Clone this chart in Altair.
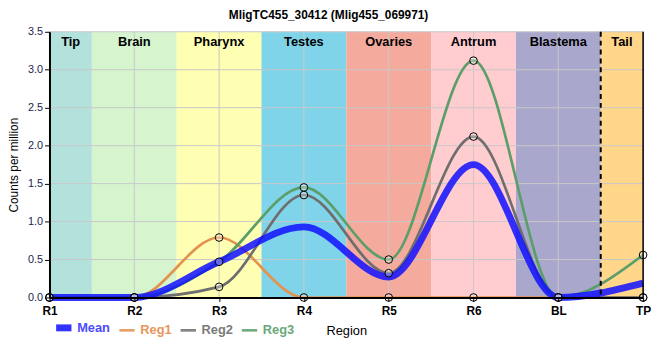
import json
import altair as alt
import pandas as pd

# ---- data ----
regions = ["R1", "R2", "R3", "R4", "R5", "R6", "BL", "TP"]
series_names = ["Mean", "Reg1", "Reg2", "Reg3"]
mean = [0.0, 0.0, 0.47, 0.93, 0.27, 1.75, 0.0, 0.19]
reg1 = [0.0, 0.0, 0.79, 0.0, 0.0, 0.0, 0.0, 0.0]
reg2 = [0.0, 0.0, 0.14, 1.35, 0.32, 2.12, 0.0, 0.0]
reg3 = [0.0, 0.0, 0.47, 1.45, 0.50, 3.12, 0.0, 0.56]

band_names = ["Tip", "Brain", "Pharynx", "Testes", "Ovaries", "Antrum", "Blastema", "Tail"]
band_start = [0.0, 0.5, 1.5, 2.5, 3.5, 4.5, 5.5, 6.5]
band_end = [0.5, 1.5, 2.5, 3.5, 4.5, 5.5, 6.5, 7.0]
y_ticks = [0.0, 0.5, 1.0, 1.5, 2.0, 2.5, 3.0, 3.5]

# ---- styles ----
band_colors = ["#b3e2dd", "#d6f5cf", "#ffffb3", "#80d4ea", "#f5aa9e", "#ffccd0", "#a9a8cc", "#ffd68a"]
series_colors = ["#1010ff", "#e39250", "#6e6e6e", "#5b9e69"]
label_colors = ["#4a4aff", "#e8955a", "#7a7a7a", "#6aa87a"]
series_widths = [7, 2.7, 2.7, 2.7]
FONT = "Liberation Sans"
W, H = 601, 269

rows = []
for name, vals in zip(series_names, [mean, reg1, reg2, reg3]):
    for i, v in enumerate(vals):
        rows.append({"series": name, "idx": i, "region": regions[i], "value": v})
df = pd.DataFrame(rows)

bands = pd.DataFrame({"band": band_names, "start": band_start, "end": band_end})
bands["mid"] = (bands["start"] + bands["end"]) / 2
xgrid = pd.DataFrame({"idx": list(range(len(regions)))})
ygrid = pd.DataFrame({"v": y_ticks})

label_expr = json.dumps(regions) + "[datum.value]"
idx_expr = "indexof(" + json.dumps(series_names) + ", datum.label)"
legend_color_expr = json.dumps(label_colors) + "[" + idx_expr + "]"

xscale = alt.Scale(domain=[0, len(regions) - 1], nice=False, zero=False)
yscale = alt.Scale(domain=[y_ticks[0], y_ticks[-1]], nice=False)

xaxis = alt.Axis(
    values=list(range(len(regions))), labelExpr=label_expr, grid=False,
    title="Region", titleFont=FONT, titleFontSize=13, titleFontWeight="normal",
    titlePadding=8, labelFont=FONT, labelFontSize=12, labelFontWeight="bold",
    labelColor="black", labelPadding=4, domainColor="black", domainWidth=2,
    tickColor="black", tickSize=4, tickWidth=1, zindex=1, labelOverlap=False,
    labelFlush=False,
)
yaxis = alt.Axis(
    values=y_ticks, format=".1f", grid=False, title="Counts per million",
    titleFont=FONT, titleFontSize=12, titleFontWeight="normal", titlePadding=7,
    labelFont=FONT, labelFontSize=11, labelColor="#1c2350", domainColor="black",
    domainWidth=2, tickColor="black", tickSize=5, zindex=1, labelOverlap=False,
    labelFlush=False, labelPadding=2,
)


def X(field):
    return alt.X(field, scale=xscale, axis=xaxis)


def Y(field):
    return alt.Y(field, scale=yscale, axis=yaxis)


band_layer = alt.Chart(bands).mark_rect().encode(
    x=X("start:Q"),
    x2="end:Q",
    y=alt.value(0),
    y2=alt.value(H),
    fill=alt.Fill("band:N", scale=alt.Scale(domain=band_names, range=band_colors), legend=None),
)

xgrid_layer = alt.Chart(xgrid).mark_rule(color="#c8c8c8", strokeWidth=1).encode(
    x=X("idx:Q"), y=alt.value(0), y2=alt.value(H)
)
ygrid_layer = alt.Chart(ygrid).mark_rule(color="#c8c8c8", strokeWidth=1).encode(
    y=Y("v:Q"), x=alt.value(0), x2=alt.value(W)
)

legend = alt.Legend(
    title=None, orient="none", legendX=3, legendY=288, direction="horizontal",
    columns=4, symbolType="stroke", symbolSize=240, labelFont=FONT,
    labelFontSize=13, labelFontWeight="bold", columnPadding=3, symbolOffset=0,
    labelOffset=2, labelColor={"expr": legend_color_expr},
)
color_enc = alt.Color(
    "series:N", scale=alt.Scale(domain=series_names, range=series_colors), legend=legend
)
width_enc = alt.StrokeWidth(
    "series:N",
    scale=alt.Scale(type="ordinal", domain=series_names, range=series_widths),
    legend=legend,
)

reg_lines = alt.Chart(df).transform_filter(alt.datum.series != "Mean").mark_line(
    interpolate="monotone"
).encode(
    x=X("idx:Q"),
    y=Y("value:Q"),
    color=color_enc,
    strokeWidth=width_enc,
    detail="series:N",
)
mean_line = alt.Chart(df).transform_filter(alt.datum.series == "Mean").mark_line(
    interpolate="monotone", opacity=0.85
).encode(
    x=X("idx:Q"),
    y=Y("value:Q"),
    color=color_enc,
    strokeWidth=width_enc,
)
points = alt.Chart(df).transform_filter(alt.datum.series != "Mean").mark_point(
    shape="circle", filled=True, fill="white", fillOpacity=0.3, stroke="black",
    strokeWidth=1, size=60, opacity=1
).encode(
    x=X("idx:Q"),
    y=Y("value:Q"),
)

dashed = alt.Chart(bands).transform_filter(alt.datum.band == "Tail").mark_rule(
    color="black", strokeWidth=2, strokeDash=[5, 4]
).encode(x=X("start:Q"), y=alt.value(0), y2=alt.value(H))

right_edge = alt.Chart(bands).transform_filter(alt.datum.band == "Tail").mark_rule(
    color="black", strokeWidth=1.5
).encode(x=X("end:Q"), y=alt.value(0), y2=alt.value(H))

band_text = alt.Chart(bands).mark_text(
    font=FONT, fontSize=13, fontWeight="bold", color="black", baseline="middle"
).encode(x=X("mid:Q"), y=alt.value(10), text="band:N")

chart = alt.layer(
    band_layer, xgrid_layer, ygrid_layer, reg_lines, mean_line, points,
    dashed, right_edge, band_text
).properties(
    width=W, height=H,
    title=alt.TitleParams(
        "MligTC455_30412 (Mlig455_069971)", font=FONT, fontSize=12,
        fontWeight="bold", anchor="middle", dx=-18, offset=4, color="black"
    ),
    autosize=alt.AutoSizeParams(type="none"),
    padding={"left": 42, "top": 22, "right": 9, "bottom": 45},
).configure_view(stroke=None).configure(background="white")

chart.save("out.html", embed_options={"renderer": "svg", "actions": False})
